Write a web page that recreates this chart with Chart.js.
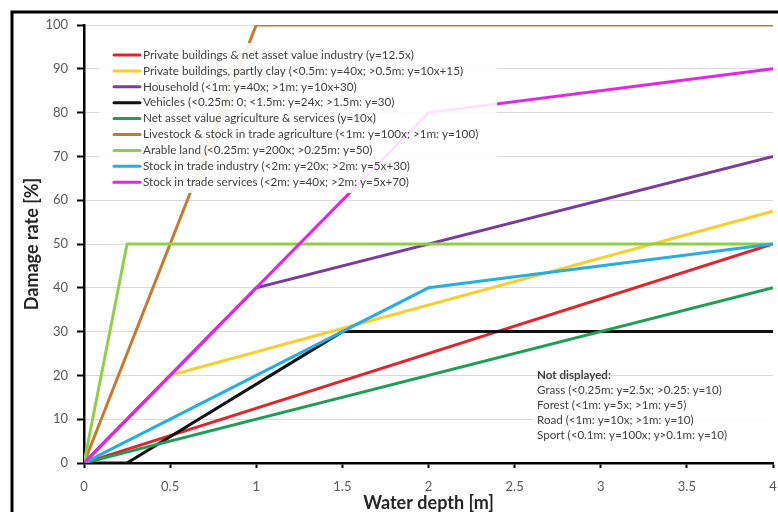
<!DOCTYPE html>
<html>
<head>
<meta charset="utf-8">
<script src="https://cdn.jsdelivr.net/npm/chart.js@4/dist/chart.umd.min.js"></script>
<style>
  html, body { margin: 0; padding: 0; background: #fff; }
  canvas { display: block; }
</style>
</head>
<body>
<canvas id="c" width="778" height="512"></canvas>
<script>
// Depth-damage functions: water depth [m] vs damage rate [%]
const seriesLabels = [
  'Private buildings & net asset value industry (y=12.5x)',
  'Private buildings, partly clay (<0.5m: y=40x; >0.5m: y=10x+15)',
  'Household (<1m: y=40x; >1m: y=10x+30)',
  'Vehicles (<0.25m: 0; <1.5m: y=24x; >1.5m: y=30)',
  'Net asset value agriculture & services (y=10x)',
  'Livestock & stock in trade agriculture (<1m: y=100x; >1m: y=100)',
  'Arable land (<0.25m: y=200x; >0.25m: y=50)',
  'Stock in trade industry (<2m: y=20x; >2m: y=5x+30)',
  'Stock in trade services (<2m: y=40x; >2m: y=5x+70)'
];

// Breakpoints of each function (depth, damage)
const privateIndustryDepth = [0, 4];
const privateIndustryDamage = [0, 50];
const privateClayDepth = [0, 0.5, 4];
const privateClayDamage = [0, 20, 57.5];
const householdDepth = [0, 1, 4];
const householdDamage = [0, 40, 70];
const vehiclesDepth = [0, 0.25, 1.5, 4];
const vehiclesDamage = [0, 0, 30, 30];
const agricultureAssetDepth = [0, 4];
const agricultureAssetDamage = [0, 40];
const livestockDepth = [0, 1, 4];
const livestockDamage = [0, 100, 100];
const arableDepth = [0, 0.25, 4];
const arableDamage = [0, 50, 50];
const stockIndustryDepth = [0, 2, 4];
const stockIndustryDamage = [0, 40, 50];
const stockServicesDepth = [0, 2, 4];
const stockServicesDamage = [0, 80, 90];

const xTickLabels = ['0', '0.5', '1', '1.5', '2', '2.5', '3', '3.5', '4'];
const yTickLabels = ['0', '10', '20', '30', '40', '50', '60', '70', '80', '90', '100'];

const notDisplayedTitle = 'Not displayed:';
const notDisplayedLabels = [
  'Grass (<0.25m: y=2.5x; >0.25: y=10)',
  'Forest (<1m: y=5x; >1m: y=5)',
  'Road (<1m: y=10x; >1m: y=10)',
  'Sport (<0.1m: y=100x; y>0.1m: y=10)'
];

const seriesPoints = [
  [privateIndustryDepth, privateIndustryDamage],
  [privateClayDepth, privateClayDamage],
  [householdDepth, householdDamage],
  [vehiclesDepth, vehiclesDamage],
  [agricultureAssetDepth, agricultureAssetDamage],
  [livestockDepth, livestockDamage],
  [arableDepth, arableDamage],
  [stockIndustryDepth, stockIndustryDamage],
  [stockServicesDepth, stockServicesDamage]
];

const palette = ['#e2242b', '#f9cd2a', '#7a3d9e', '#111111', '#1f9e58', '#c8792c', '#8fcf48', '#27aee0', '#e424e6'];

const datasets = seriesPoints.map(([xs, ys], i) => ({
  label: seriesLabels[i],
  data: xs.map((x, k) => ({ x: x, y: ys[k] })),
  borderColor: palette[i],
  backgroundColor: palette[i],
  borderWidth: 3,
  pointRadius: 0,
  tension: 0,
  fill: false,
  order: -i
}));

const frameAndNotes = {
  id: 'frameAndNotes',
  beforeDraw(chart) {
    const ctx = chart.ctx;
    ctx.save();
    ctx.fillStyle = '#ffffff';
    ctx.fillRect(0, 0, chart.width, chart.height);
    ctx.strokeStyle = '#000000';
    ctx.lineWidth = 3;
    ctx.beginPath();
    ctx.moveTo(12, chart.height + 2);
    ctx.lineTo(12, 12);
    ctx.lineTo(chart.width + 2, 12);
    ctx.stroke();
    ctx.restore();
  },
  afterDatasetsDraw(chart) {
    const ctx = chart.ctx;
    ctx.save();
    // legend panel
    ctx.fillStyle = 'rgba(255,255,255,0.88)';
    ctx.fillRect(99, 43, 398, 150);
    ctx.font = '11.7px Lato';
    ctx.textBaseline = 'middle';
    chart.data.datasets.forEach((ds, i) => {
      const y = 55 + i * 15.9;
      ctx.strokeStyle = ds.borderColor;
      ctx.lineWidth = 3;
      ctx.lineCap = 'round';
      ctx.beginPath();
      ctx.moveTo(114, y);
      ctx.lineTo(140, y);
      ctx.stroke();
      ctx.fillStyle = '#404040';
      ctx.fillText(ds.label, 143, y);
    });
    // note panel
    ctx.fillStyle = 'rgba(255,255,255,0.92)';
    ctx.fillRect(533, 381, 240, 64);
    ctx.fillStyle = '#404040';
    ctx.font = 'bold 11.6px Lato';
    ctx.fillText(notDisplayedTitle, 537, 375);
    ctx.font = '11.6px Lato';
    notDisplayedLabels.forEach((t, i) => {
      ctx.fillText(t, 537, 390 + i * 15.2);
    });
    ctx.restore();
  }
};

new Chart(document.getElementById('c'), {
  type: 'line',
  data: { datasets: datasets },
  options: {
    responsive: false,
    animation: false,
    devicePixelRatio: 1,
    layout: { padding: { left: 14, right: 5, top: 25, bottom: 0 } },
    plugins: {
      legend: { display: false },
      tooltip: { enabled: false }
    },
    scales: {
      x: {
        type: 'linear',
        min: 0,
        max: 4,
        afterFit(scale) {
          scale.height = 49;
          scale.paddingLeft = 0;
          scale.paddingRight = 0;
        },
        ticks: {
          stepSize: 0.5,
          autoSkip: false,
          maxRotation: 0,
          padding: 11,
          color: '#595959',
          font: { family: 'Lato', size: 13 },
          callback: (v) => xTickLabels[Math.round(v * 2)]
        },
        grid: {
          drawOnChartArea: false,
          drawTicks: true,
          tickLength: 5,
          tickColor: '#000000',
          tickWidth: 2
        },
        border: { display: true, color: '#000000', width: 2.5 },
        title: {
          display: true,
          text: 'Water depth [m]',
          color: '#262626',
          font: { family: 'Lato', size: 18, weight: 'bold' },
          padding: { top: 0, bottom: -2 }
        }
      },
      y: {
        type: 'linear',
        min: 0,
        max: 100,
        afterFit(scale) {
          scale.width = 70;
          scale.paddingTop = 0;
          scale.paddingBottom = 0;
        },
        ticks: {
          stepSize: 10,
          padding: 9,
          color: '#595959',
          font: { family: 'Lato', size: 13 },
          callback: (v) => yTickLabels[Math.round(v / 10)]
        },
        grid: {
          color: '#d9d9d9',
          lineWidth: 1,
          drawTicks: true,
          tickLength: 7,
          tickColor: '#000000',
          tickWidth: 2
        },
        border: { display: true, color: '#000000', width: 2.5 },
        title: {
          display: true,
          text: 'Damage rate [%]',
          color: '#262626',
          font: { family: 'Lato', size: 18, weight: 'bold' },
          padding: { top: 7, bottom: 0 }
        }
      }
    }
  },
  plugins: [frameAndNotes]
});
</script>
</body>
</html>
